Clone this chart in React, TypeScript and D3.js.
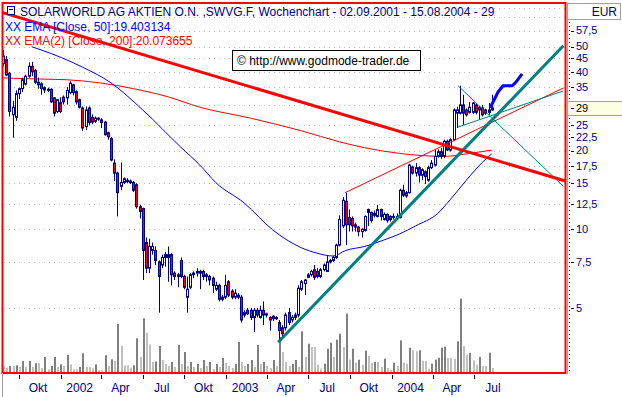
import React from "react";
import * as d3 from "d3";

// ---------- data ----------
const START = new Date(2001, 7, 27); // first weekly bar (week ending 02.09.2001)
const DAY = 86400000;
const weekDate = (k: number) => new Date(START.getTime() + Math.round(k * 7 * DAY));

const open = [
  43, 44.5, 39.5, 27.4, 26.8, 33, 34.5, 35.9, 38.5, 42,
  40.5, 36.5, 36, 34.8, 34.3, 34.3, 31.8, 28.2, 30.5, 32,
  31.8, 33.3, 35.7, 33.6, 31.3, 29.1, 24.7, 29.1, 26.8, 25.9,
  26.6, 26.2, 25.7, 23.4, 22.2, 17.9, 16.4, 14.6, 15.1, 15.2,
  15.3, 15.1, 14.8, 12.2, 12.0, 8.9, 7.1, 8.3, 8.3, 7.5,
  7.3, 7.8, 7.8, 8.0, 6.8, 6.6, 7.6, 6.6, 5.5, 6.0,
  6.7, 6.8, 6.9, 6.9, 6.6, 6.6, 6.5, 5.9, 6.1, 5.5,
  5.5, 6.3, 5.8, 5.5, 5.6, 5.5, 4.7, 4.9, 4.9, 4.6,
  4.9, 4.6, 4.9, 4.7, 4.6, 4.65, 4.6, 4.4, 4.2, 4.2,
  4.8, 4.5, 4.6, 4.7, 5.9, 6.2, 6.55, 6.7, 7.0, 6.9,
  6.6, 7.0, 6.9, 7.5, 7.6, 7.8, 8.7, 10.3, 12.8, 11.1,
  11.0, 10.4, 10.2, 9.8, 9.9, 11.9, 11.6, 11.3, 11.2, 11.9,
  10.9, 11.4, 11.2, 11.2, 11.1, 11.1, 14.1, 13.8, 13.8, 17.3,
  16.4, 17.2, 16.1, 16.6, 15.4, 17.2, 17.6, 19.0, 19.8, 19.0,
  21.7, 20.1, 22.0, 27.8, 27.8, 29.9, 28.6, 28.0, 28.0, 29.9,
  29.3, 29.1, 28.6, 28.0, 28.6,
];
const high = [
  48.5, 46, 40, 31, 34, 34.8, 38, 39, 43.5, 43.7,
  41, 38, 36.5, 35.2, 34.8, 34.6, 32, 31.5, 32, 32.5,
  35, 36.8, 36, 34, 31.6, 29.5, 29.5, 29.5, 27.5, 27,
  26.8, 26.6, 26, 23.6, 22.5, 18.5, 16.6, 18, 15.8, 15.7,
  15.5, 15.3, 15, 12.4, 12.1, 9.3, 9.2, 8.9, 8.6, 7.6,
  8.0, 8.2, 8.6, 8.1, 6.9, 6.8, 7.8, 6.7, 6.6, 6.8,
  6.9, 7.1, 7.0, 7.0, 6.8, 6.7, 6.6, 6.3, 6.2, 5.6,
  6.7, 6.4, 5.9, 5.9, 5.7, 5.6, 4.9, 5.0, 5.0, 5.0,
  5.0, 5.1, 5.3, 4.8, 4.65, 4.7, 4.65, 4.5, 4.3, 4.8,
  5.0, 4.7, 4.8, 6.1, 6.4, 6.45, 6.8, 7.0, 7.3, 7.1,
  7.1, 7.4, 7.9, 7.7, 7.9, 8.8, 11.3, 13.3, 13.8, 11.9,
  11.2, 10.6, 10.3, 10.1, 11.3, 12.0, 11.7, 11.8, 12.4, 12.0,
  11.6, 11.5, 11.3, 11.5, 11.5, 14.3, 14.8, 14.0, 17.8, 17.5,
  17.9, 17.4, 17.1, 16.8, 17.5, 18.4, 20.1, 20.2, 20.5, 22,
  22.0, 22.3, 29.0, 29.4, 35.4, 32.7, 29.0, 30.7, 30.7, 30.4,
  29.6, 29.9, 28.9, 30.4, 32.7,
];
const low = [
  42, 38.5, 27, 22.4, 26, 31.5, 33.5, 35.5, 38, 38.5,
  36, 34.5, 32.7, 33.2, 33.5, 30.5, 27, 27.8, 27.8, 30,
  30, 32.8, 32.5, 30, 29, 23.8, 24, 25, 25.2, 25.5,
  26, 24.4, 22.8, 22, 18.2, 15.3, 11.2, 14.1, 14.9, 15.0,
  14.9, 13.9, 12, 11, 6.4, 6.8, 6.8, 8.0, 7.3, 4.8,
  7.1, 7.2, 6.3, 6.1, 6.4, 6.0, 6.5, 5.9, 4.8, 5.9,
  6.5, 6.6, 5.9, 6.4, 6.3, 6.1, 5.7, 5.8, 5.3, 5.3,
  5.4, 5.5, 5.4, 5.4, 5.4, 4.4, 4.6, 4.7, 4.5, 4.05,
  4.6, 4.55, 4.3, 4.6, 4.1, 4.45, 4.5, 3.7, 3.9, 4.1,
  4.3, 4.4, 4.5, 4.6, 5.8, 5.6, 6.5, 6.6, 6.4, 6.5,
  6.5, 6.9, 6.9, 7.4, 7.5, 7.7, 8.6, 10.1, 8.7, 9.8,
  9.8, 9.8, 9.4, 9.3, 9.8, 10.3, 10.6, 11.1, 11.1, 10.8,
  10.8, 10.6, 10.7, 10.9, 10.9, 11.0, 13.3, 13.2, 13.7, 16.2,
  15.9, 15.1, 15.4, 14.9, 15.2, 17.0, 17.4, 18.8, 18.6, 18.7,
  19.9, 19.8, 21.8, 24.4, 27.5, 25.1, 27.0, 27.7, 27.6, 27.5,
  26.2, 27.0, 27.4, 27.4, 28.4,
];
const close = [
  46, 38.9, 28.2, 29.3, 33, 34.5, 37.3, 38.5, 42, 40,
  36.5, 35.7, 34.5, 34.1, 34, 30.7, 27.8, 31.3, 28.2, 30.7,
  34, 36.2, 33.3, 30.7, 29.3, 24.4, 28.6, 25.6, 25.7, 26.6,
  26.4, 25.6, 23, 22.6, 18.4, 16.4, 13.8, 15.1, 15.6, 15.4,
  15.1, 14.1, 12.2, 11.7, 8.3, 7.1, 8.6, 8.6, 7.6, 6.6,
  7.8, 8.0, 8.0, 6.7, 6.6, 6.7, 6.6, 6.0, 5.9, 6.7,
  6.8, 6.9, 6.8, 6.6, 6.7, 6.4, 6.1, 6.1, 5.4, 5.4,
  6.1, 5.6, 5.5, 5.7, 5.5, 4.5, 4.8, 4.75, 4.6, 4.9,
  4.7, 4.9, 4.7, 4.75, 4.5, 4.55, 4.55, 4.1, 3.99, 4.7,
  4.4, 4.6, 4.7, 5.95, 6.3, 6.4, 6.7, 6.9, 6.55, 6.6,
  7.0, 7.3, 7.5, 7.6, 7.8, 8.7, 10.9, 12.9, 10.4, 10.4,
  10.3, 10.2, 9.8, 10.0, 11.2, 11.6, 10.8, 11.5, 11.9, 11.2,
  11.4, 10.8, 10.9, 11.1, 11.2, 14.1, 13.5, 13.4, 17.6, 16.4,
  17.2, 16.1, 16.9, 15.9, 17.2, 17.9, 19.0, 19.8, 19.0, 21.7,
  20.1, 22.0, 28.6, 28.6, 29.9, 27.8, 27.4, 29.3, 30.4, 28.0,
  28.6, 27.4, 27.8, 28.6, 29.1,
];
const volume = [
  6, 4.3, 6, 6, 6.7, 5, 11, 5.3, 11, 5,
  8.7, 8.7, 4, 15, 2.7, 6, 15, 5, 7.7, 6,
  17, 7.7, 2.7, 2.7, 5, 18.7, 5, 5, 3.7, 7.7,
  1.7, 1.7, 16.7, 6, 12.7, 11, 48, 26, 6.7, 6.7,
  4.3, 6.7, 33.7, 15, 53.7, 39.3, 27.7, 10, 10.5, 26,
  12, 8, 6, 10, 5, 27, 8, 20, 6, 10,
  5, 8, 4, 12, 6, 10, 3, 8, 5, 14,
  9, 6, 4, 8, 30, 10, 6, 8, 12, 5,
  27, 8, 10, 6, 4, 12, 6, 35, 20, 10,
  6, 8, 12, 5, 40.7, 15, 28.3, 25, 25, 7.3,
  3.3, 8.3, 23.3, 29.3, 15, 32.3, 38.3, 25, 58.3, 12.3,
  23.3, 9.3, 12.3, 7.3, 21.3, 16, 9.3, 10, 10, 5,
  13.3, 4, 2.3, 9.3, 6, 31.7, 9.3, 8.3, 24.3, 21.7,
  20.7, 21.7, 11.3, 11, 3.3, 8.3, 12.3, 14.3, 24.3, 25.3,
  14.3, 14.3, 13.3, 30.7, 73.3, 26, 17.3, 19, 11.7, 7.3,
  15, 6, 6, 19.3, 4,
];

// indicator lines: [week index, price]
const ema50: [number, number][] = [
  [9, 49.9], [12, 48.5], [25, 41.7], [34, 36.3], [44, 28.6], [56, 20.6], [62, 17.6],
  [67, 15.1], [76, 12.6], [85, 9.94], [94, 8.5], [99, 8.1], [104, 7.9], [108, 8.3],
  [114, 8.6], [120, 9.1], [125, 9.6], [130, 10.3], [137, 11.5], [141, 13.0],
  [146, 15.4], [151, 18.0], [154, 19.4],
];
const ema200: [number, number][] = [
  [0, 37.9], [13, 37.5], [20, 37.3], [30.5, 36.3], [41, 34.5], [51.6, 32.2], [62, 29.3],
  [78, 26.6], [94, 23.8], [106, 21.6], [114, 20.5], [125, 19.5], [139, 19.0],
  [147, 19.5], [154, 20.07],
];
// drawn trend lines / forecast: [week index, price]
const downTrend: [number, number][] = [[-0.1, 67.3], [177.2, 15.3]];
const upTrend: [number, number][] = [[86.7, 3.7], [176.6, 50.3]];
const triUpper: [number, number][] = [[143.4, 35.4], [176.6, 14.6]];
const triLower: [number, number][] = [[143.4, 24.6], [176.6, 33.8]];
const redUp: [number, number][] = [[107.8, 13.8], [176.6, 34.7]];
const forecast: [number, number][] = [
  [153.5, 29.1], [156, 33.5], [157.6, 35.4], [160.5, 35.4], [161.7, 36.6], [163.6, 39.3],
];

const priceTicks = [57.5, 50, 45, 40, 35, 30, 25, 22.5, 20, 17.5, 15, 12.5, 10, 7.5, 5];
const priceLabels = ["57,5", "50", "45", "40", "35", "", "25", "22,5", "20", "17,5", "15", "12,5", "10", "7,5", "5"];
const extraGrid = [70, 65];
const lastPrice = 29;
const timeTicks = [
  new Date(2001, 9, 1), new Date(2002, 0, 1), new Date(2002, 3, 1), new Date(2002, 6, 1),
  new Date(2002, 9, 1), new Date(2003, 0, 1), new Date(2003, 3, 1), new Date(2003, 6, 1),
  new Date(2003, 9, 1), new Date(2004, 0, 1), new Date(2004, 3, 1), new Date(2004, 6, 1),
];
const timeLabels = ["Okt", "2002", "Apr", "Jul", "Okt", "2003", "Apr", "Jul", "Okt", "2004", "Apr", "Jul"];

const TITLE = "SOLARWORLD AG AKTIEN O.N. ,SWVG.F, Wochenchart - 02.09.2001 - 15.08.2004 - 29";
const LEG1 = "XX EMA [Close, 50]:19.403134";
const LEG2 = "XX EMA(2) [Close, 200]:20.073655";
const WATERMARK = "\u00A9 http://www.godmode-trader.de";

// ---------- chart ----------
const NAVY = "#000080";
const FONT = "'Liberation Sans', Arial, sans-serif";

export default function App() {
  const x = d3.scaleTime().domain([new Date(2001, 9, 1), new Date(2004, 6, 1)]).range([19, 474]);
  const y = d3.scaleLog().domain([5, 50]).range([308, 46.5]);
  const yv = d3.scaleLinear().domain([0, 80]).range([372, 292]);
  const xk = (k: number) => x(weekDate(k));

  const smooth = d3.line<[number, number]>().x((d) => xk(d[0])).y((d) => y(d[1])).curve(d3.curveMonotoneX);
  const straight = d3.line<[number, number]>().x((d) => xk(d[0])).y((d) => y(d[1]));

  const idx = d3.range(open.length);

  return (
    <svg width={622} height={397} style={{ position: "fixed", left: 0, top: 0, background: "#fff" }}
      fontFamily={FONT}>
      <defs>
        <clipPath id="plot"><rect x={3} y={4} width={562} height={369} /></clipPath>
      </defs>
      <rect x={0} y={0} width={622} height={397} fill="#fff" />

      <g clipPath="url(#plot)">
        {/* grid */}
        {[...extraGrid, ...priceTicks].map((p, i) => (
          <line key={"g" + i} x1={4} x2={565} y1={Math.round(y(p)) + 0.5} y2={Math.round(y(p)) + 0.5}
            stroke="#c0c0c0" strokeDasharray="1,4" />
        ))}
        {/* volume */}
        {idx.map((k) => {
          const cx = Math.round(xk(k));
          const up = k > 0 && volume[k] > volume[k - 1];
          return (
            <rect key={"v" + k} x={cx} width={2} y={yv(volume[k])} height={372 - yv(volume[k])}
              fill={up ? "#808080" : "#c0c0c0"} />
          );
        })}
        {/* indicators */}
        <path d={smooth(ema200) || ""} fill="none" stroke="#ff0000" strokeWidth={1} />
        <path d={smooth(ema50) || ""} fill="none" stroke="#0000ff" strokeWidth={1} />
        {/* candles */}
        {idx.map((k) => {
          const cx = Math.round(xk(k));
          const yo = y(open[k]);
          const yc = y(close[k]);
          const top = Math.min(yo, yc);
          const h = Math.max(1, Math.abs(yo - yc));
          const down = close[k] < open[k];
          return (
            <g key={"c" + k}>
              <line x1={cx + 0.5} x2={cx + 0.5} y1={y(high[k])} y2={y(low[k])} stroke={NAVY} strokeWidth={1} />
              <rect x={cx - 0.5} width={2} y={top} height={h} fill={down ? "#ff0000" : "#ffffff"}
                stroke={NAVY} strokeWidth={1} />
            </g>
          );
        })}
        {/* drawn lines */}
        <path d={straight(redUp) || ""} stroke="#ff0000" strokeWidth={1} fill="none" />
        <path d={straight(triUpper) || ""} stroke="#008080" strokeWidth={1} fill="none" />
        <path d={straight(triLower) || ""} stroke="#008080" strokeWidth={1} fill="none" />
        <path d={straight(upTrend) || ""} stroke="#008080" strokeWidth={3} fill="none" />
        <path d={straight(downTrend) || ""} stroke="#ff0000" strokeWidth={3} fill="none" />
        <path d={straight(forecast) || ""} stroke="#0000ff" strokeWidth={3} fill="none" strokeLinejoin="round" />
      </g>

      {/* watermark */}
      <rect x={232.5} y={50.5} width={188} height={20} fill="#fff" stroke="#000" strokeWidth={1} />
      <text x={237} y={65} fontSize={12} fill="#000">{WATERMARK}</text>

      {/* legend */}
      <rect x={7.5} y={6.5} width={7} height={8} fill="#fff" stroke={NAVY} />
      <line x1={9} x2={13} y1={9.5} y2={9.5} stroke={NAVY} />
      <text x={20} y={16} fontSize={12} fill={NAVY}>{TITLE}</text>
      <text x={5} y={31} fontSize={12} fill="#0000ff">{LEG1}</text>
      <text x={5} y={45} fontSize={12} fill="#ff0000">{LEG2}</text>

      {/* frame */}
      <rect x={2.5} y={3} width={563} height={370} fill="none" stroke="#ff0000" strokeWidth={2} />

      {/* right axis */}
      <line x1={567.5} x2={567.5} y1={3} y2={374} stroke="#a0a0a0" />
      <rect x={567.5} y={3.5} width={53} height={16} fill="#fff" stroke="#a0a0a0" />
      <text x={617} y={16} fontSize={12} fill={NAVY} textAnchor="end">EUR</text>
      <line x1={569.5} x2={569.5} y1={22} y2={374} stroke={NAVY} strokeDasharray="1,3" />
      {priceTicks.map((p, i) => (
        <g key={"t" + i}>
          <line x1={571} x2={574} y1={Math.round(y(p)) + 0.5} y2={Math.round(y(p)) + 0.5} stroke={NAVY} />
          {priceLabels[i] && (
            <text x={576} y={y(p)} dy="0.35em" fontSize={11} fill={NAVY}>{priceLabels[i]}</text>
          )}
        </g>
      ))}
      <rect x={567.5} y={101.5} width={55} height={14} fill="#ffffe1" stroke="#a0a0a0" />
      <line x1={571} x2={574} y1={Math.round(y(lastPrice)) + 0.5} y2={Math.round(y(lastPrice)) + 0.5} stroke={NAVY} />
      <text x={576} y={y(lastPrice)} dy="0.35em" fontSize={11} fill="#000">{String(lastPrice)}</text>

      {/* time axis */}
      <line x1={2.5} x2={2.5} y1={373} y2={397} stroke="#a0a0a0" />
      {timeTicks.map((d, i) => (
        <g key={"x" + i}>
          <line x1={Math.round(x(d)) + 0.5} x2={Math.round(x(d)) + 0.5} y1={375} y2={379} stroke={NAVY} />
          <text x={x(d) + 19} y={392} fontSize={12} fill={NAVY} textAnchor="middle">{timeLabels[i]}</text>
        </g>
      ))}
    </svg>
  );
}
